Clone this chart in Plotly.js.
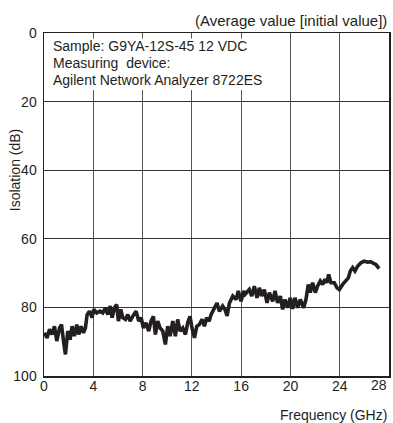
<!DOCTYPE html>
<html>
<head>
<meta charset="utf-8">
<script src="https://cdn.plot.ly/plotly-3.0.1.min.js"></script>
<style>html,body{margin:0;padding:0;background:#fff;}#chart{width:393px;height:423px;}</style>
</head>
<body>
<div id="chart"></div>
<script>
// Frequency (GHz)
const freqGHz = [0.04,0.25,0.45,0.66,0.85,1.04,1.26,1.42,1.58,1.74,1.93,2.12,2.28,2.47,2.66,2.82,3.01,3.20,3.36,3.50,3.69,3.90,
  4.04,4.28,4.55,4.77,4.99,5.18,5.37,5.53,5.72,5.90,6.04,6.23,6.39,6.61,6.80,6.99,7.20,7.47,7.69,7.88,
  8.07,8.28,8.50,8.69,8.88,9.04,9.23,9.42,9.64,9.85,10.04,10.23,10.45,10.66,10.85,11.04,11.26,11.48,11.66,11.85,
  12.01,12.21,12.40,12.61,12.83,13.02,13.20,13.40,13.56,13.83,14.04,14.23,14.50,14.69,14.86,15.05,15.32,15.59,15.77,15.99,
  16.21,16.32,16.66,16.86,17.07,17.29,17.48,17.67,17.88,18.10,18.29,18.56,18.75,18.96,19.18,19.37,19.56,19.78,19.99,
  20.18,20.37,20.59,20.80,21.07,21.26,21.45,21.61,21.80,22.02,22.20,22.42,22.61,22.80,22.97,23.10,23.29,23.56,23.78,23.97,
  24.24,24.51,24.70,24.86,25.05,25.24,25.45,25.72,25.99,26.26,26.53,26.75,26.94,27.20];
// Isolation (dB)
const isolationDB = [87.4,88.9,86.4,87.9,85.5,89.8,86.0,85.0,89.8,93.7,86.9,89.4,85.5,88.4,85.0,87.9,85.5,87.4,86.0,82.1,81.1,83.0,
  80.6,81.6,81.1,81.6,80.1,82.1,79.6,83.0,80.1,79.2,84.0,80.6,83.0,83.5,82.1,84.0,82.6,81.1,84.0,83.0,
  86.0,84.5,86.9,84.0,82.6,87.9,84.0,86.0,86.9,90.8,85.5,88.4,84.0,88.4,83.5,86.9,86.0,87.9,84.5,82.6,
  86.0,88.9,85.5,85.0,83.5,85.5,83.0,84.0,82.1,80.1,78.7,81.1,79.6,80.6,82.5,78.7,76.7,77.7,75.2,78.2,
  75.2,76.2,74.8,76.7,73.8,77.2,74.3,76.7,74.8,78.7,75.7,78.2,75.2,78.7,76.7,80.6,77.7,80.1,77.2,
  80.4,77.2,80.1,77.7,80.1,77.7,73.3,75.7,72.8,75.7,73.8,72.3,73.3,71.8,72.8,70.4,72.8,72.8,74.3,74.8,
  73.3,72.3,71.4,69.4,68.4,69.4,68.0,67.0,66.5,66.8,66.7,67.2,67.5,68.7];

const xTickVals = [0,4,8,12,16,20,24];
const xLastTick = 28;
const yTickVals = [0,20,40,60,80,100];

const titleText = "(Average value [initial value])";
const xTitle = "Frequency (GHz)";
const yTitle = "Isolation (dB)";
const infoLines = ["Sample: G9YA-12S-45 12 VDC", "Measuring  device:", "Agilent Network Analyzer 8722ES"];

const ink = "#231f20";
const fam = "Liberation Sans, Arial, sans-serif";

const trace = {
  x: freqGHz, y: isolationDB, type: "scatter", mode: "lines",
  line: {color: ink, width: 3.6}, hoverinfo: "skip"
};

const infoY = [0.961, 0.912, 0.863];
const annotations = [
  {text: titleText, xref: "paper", yref: "paper", x: 1.0, y: 1.036, xanchor: "right", yanchor: "middle",
   showarrow: false, font: {family: fam, size: 15, color: ink}},
  {text: xTitle, xref: "paper", yref: "paper", x: 1.0, y: -0.115, xanchor: "right", yanchor: "middle",
   showarrow: false, font: {family: fam, size: 14, color: ink}},
  {text: yTitle, xref: "paper", yref: "paper", x: -0.084, y: 0.6, xanchor: "center", yanchor: "middle",
   textangle: -90, showarrow: false, font: {family: fam, size: 14, color: ink}},
  {text: String(xLastTick), xref: "x", yref: "paper", x: xLastTick, y: -0.026, xanchor: "right", yanchor: "middle",
   showarrow: false, font: {family: fam, size: 14, color: ink}}
].concat(infoLines.map((t, i) => ({
  text: t, xref: "paper", yref: "paper", x: 0.02, y: infoY[i], xanchor: "left", yanchor: "middle",
  showarrow: false, font: {family: fam, size: 14, color: ink}
})));

const layout = {
  width: 393, height: 423,
  margin: {l: 44, r: 4, t: 33, b: 47, pad: 0},
  paper_bgcolor: "#fff", plot_bgcolor: "#fff",
  showlegend: false,
  font: {family: fam, size: 14, color: ink},
  xaxis: {
    range: [0, 28], tickvals: xTickVals, ticktext: xTickVals.map(String),
    showgrid: true, gridcolor: "#555", gridwidth: 1,
    zeroline: false, showline: true, mirror: true, linecolor: ink, linewidth: 1.5,
    ticks: "", ticklabelstandoff: -3, tickfont: {family: fam, size: 14, color: ink}, fixedrange: true
  },
  yaxis: {
    range: [100, 0], tickvals: yTickVals, ticktext: yTickVals.map(String),
    showgrid: true, gridcolor: "#333", gridwidth: 1,
    zeroline: false, showline: true, mirror: true, linecolor: ink, linewidth: 1.5,
    ticks: "", ticklabelstandoff: 3, tickfont: {family: fam, size: 14, color: ink}, fixedrange: true
  },
  shapes: [
    {type: "rect", xref: "paper", yref: "paper", x0: 0.008, x1: 0.617, y0: 0.834, y1: 0.984,
     fillcolor: "#fff", line: {width: 0}, layer: "above"}
  ],
  annotations: annotations
};

Plotly.newPlot("chart", [trace], layout, {displayModeBar: false, staticPlot: true});
</script>
</body>
</html>
